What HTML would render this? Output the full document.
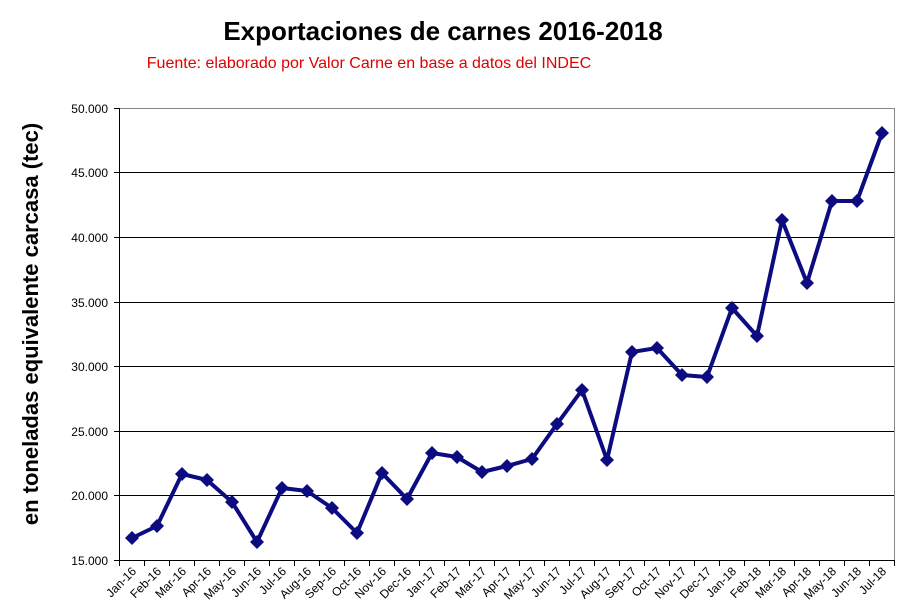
<!DOCTYPE html>
<html><head><meta charset="utf-8"><style>
html,body{margin:0;padding:0;background:#fff;}
svg{display:block;}
</style></head><body>
<svg width="901" height="613" viewBox="0 0 901 613" xmlns="http://www.w3.org/2000/svg" font-family="Liberation Sans, Arial, sans-serif">
<rect width="901" height="613" fill="#fff"/>
<text x="443" y="40" text-anchor="middle" font-size="26" font-weight="bold" fill="#000">Exportaciones de carnes 2016-2018</text>
<text x="369" y="68" text-anchor="middle" font-size="16" fill="#e00000">Fuente: elaborado por Valor Carne en base a datos del INDEC</text>
<text transform="translate(38,324) rotate(-90)" text-anchor="middle" font-size="22" font-weight="bold" fill="#000">en toneladas equivalente carcasa (tec)</text>
<g stroke="#000" stroke-width="1">
<line x1="119.5" y1="172.5" x2="894" y2="172.5"/>
<line x1="119.5" y1="237.5" x2="894" y2="237.5"/>
<line x1="119.5" y1="302.5" x2="894" y2="302.5"/>
<line x1="119.5" y1="366.5" x2="894" y2="366.5"/>
<line x1="119.5" y1="431.5" x2="894" y2="431.5"/>
<line x1="119.5" y1="495.5" x2="894" y2="495.5"/>
</g>
<path d="M119.5 108.5H894.5V560" stroke="#888" fill="none"/>
<g stroke="#000" stroke-width="1">
<line x1="119.5" y1="108" x2="119.5" y2="560"/>
<line x1="114" y1="560.5" x2="894.5" y2="560.5"/>
<line x1="114" y1="108.5" x2="119.5" y2="108.5"/>
<line x1="114" y1="172.5" x2="119.5" y2="172.5"/>
<line x1="114" y1="237.5" x2="119.5" y2="237.5"/>
<line x1="114" y1="302.5" x2="119.5" y2="302.5"/>
<line x1="114" y1="366.5" x2="119.5" y2="366.5"/>
<line x1="114" y1="431.5" x2="119.5" y2="431.5"/>
<line x1="114" y1="495.5" x2="119.5" y2="495.5"/>
</g>
<g id="xt" stroke="#000"></g>
<g font-size="12" fill="#000" text-anchor="end">
<text x="108" y="113">50.000</text>
<text x="108" y="177">45.000</text>
<text x="108" y="242">40.000</text>
<text x="108" y="307">35.000</text>
<text x="108" y="371">30.000</text>
<text x="108" y="436">25.000</text>
<text x="108" y="500">20.000</text>
<text x="108" y="565">15.000</text>
</g>
<g id="xl" font-size="12" fill="#000" text-anchor="end"></g>
<polyline id="ln" fill="none" stroke="#0c0c80" stroke-width="4" stroke-linejoin="round"/>
<g id="mk" fill="#0c0c80"></g>
</svg>
<script>
var ys=[538,526,474,480,502,542,488,491,508,533,473,499,453,457,472,466,459,424,390,460,352,348,375,377,308,336,220,283,201,201,133];
var m=["Jan","Feb","Mar","Apr","May","Jun","Jul","Aug","Sep","Oct","Nov","Dec"];
var ns="http://www.w3.org/2000/svg";
var pts=[],mk=document.getElementById("mk"),xl=document.getElementById("xl"),xt=document.getElementById("xt");
for(var i=0;i<31;i++){
 var x=132+25*i,y=ys[i];pts.push(x+","+y);
 var p=document.createElementNS(ns,"polygon");
 p.setAttribute("points",(x)+","+(y-7)+" "+(x+7)+","+y+" "+x+","+(y+7)+" "+(x-7)+","+y);
 mk.appendChild(p);
 var t=document.createElementNS(ns,"text");
 var lx=x+5,ly=572;
 t.setAttribute("transform","translate("+lx+","+ly+") rotate(-45)");
 t.textContent=m[i%12]+"-"+(16+Math.floor(i/12));
 xl.appendChild(t);
}
for(var j=0;j<=31;j++){var l=document.createElementNS(ns,"line");var xx=119.5+25*j;
 l.setAttribute("x1",xx);l.setAttribute("x2",xx);l.setAttribute("y1",560);l.setAttribute("y2",566);xt.appendChild(l);}
document.getElementById("ln").setAttribute("points",pts.join(" "));
</script>
</body></html>
